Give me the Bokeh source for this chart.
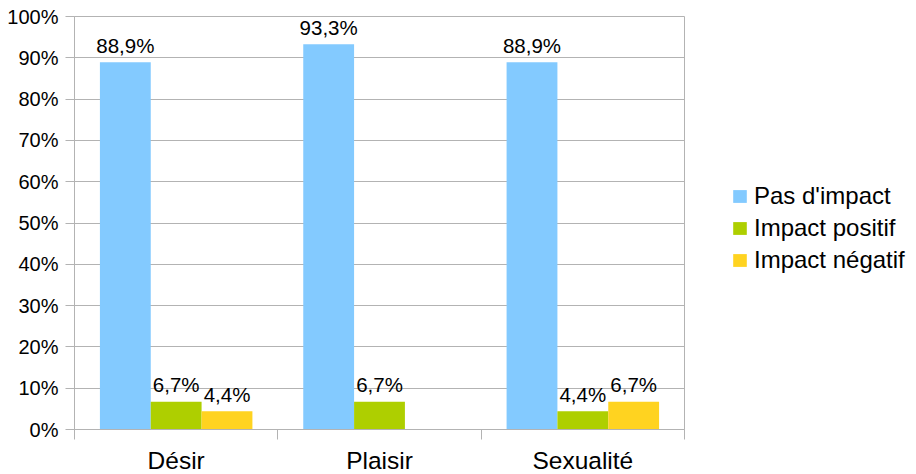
from bokeh.plotting import figure
from bokeh.models import (ColumnDataSource, Range1d, FixedTicker, PrintfTickFormatter,
                          Legend, LegendItem)
from bokeh.core.properties import value
from bokeh.embed import file_html
from bokeh.resources import INLINE

categories = ["Désir", "Plaisir", "Sexualité"]
series_names = ["Pas d'impact", "Impact positif", "Impact négatif"]
pas_impact = [88.9, 93.3, 88.9]
impact_positif = [6.7, 6.7, 4.4]
impact_negatif = [4.4, 0.0, 6.7]
series_values = [pas_impact, impact_positif, impact_negatif]
colors = ["#83CAFF", "#AECF00", "#FFD320"]
y_ticks = [0, 10, 20, 30, 40, 50, 60, 70, 80, 90, 100]

FONT = "Liberation Sans"
GRID = "#b3b3b3"

n = len(categories)
centers = [i + 0.5 for i in range(n)]
bar_w = 0.25
offsets = [-bar_w, 0.0, bar_w]

p = figure(output_backend="svg", toolbar_location=None,
           frame_width=610, frame_height=413,
           min_border_left=74, min_border_top=16, min_border_bottom=44,
           min_border_right=220,
           x_range=Range1d(0, n), y_range=Range1d(0, 100))
p.background_fill_color = "white"
p.border_fill_color = "white"
p.outline_line_color = GRID

# y axis
p.yaxis.ticker = FixedTicker(ticks=y_ticks)
p.yaxis.formatter = PrintfTickFormatter(format="%d%%")
p.yaxis.axis_line_color = GRID
p.yaxis.major_tick_line_color = GRID
p.yaxis.major_tick_out = 9
p.yaxis.major_tick_in = 0
p.yaxis.minor_tick_line_color = None
p.yaxis.major_label_text_font = FONT
p.yaxis.major_label_text_font_size = "20px"
p.yaxis.major_label_text_color = "#000000"
p.yaxis.major_label_standoff = 7

# x axis
p.xaxis.ticker = FixedTicker(ticks=centers, minor_ticks=list(range(n + 1)))
p.xaxis.major_label_overrides = {c: lab for c, lab in zip(centers, categories)}
p.xaxis.axis_line_color = GRID
p.xaxis.major_tick_line_color = None
p.xaxis.major_tick_out = 0
p.xaxis.major_tick_in = 0
p.xaxis.minor_tick_line_color = GRID
p.xaxis.minor_tick_out = 10
p.xaxis.minor_tick_in = 0
p.xaxis.major_label_text_font = FONT
p.xaxis.major_label_text_font_size = "24.5px"
p.xaxis.major_label_text_color = "#000000"
p.xaxis.major_label_standoff = 7

p.xgrid.grid_line_color = None
p.ygrid.ticker = FixedTicker(ticks=y_ticks)
p.ygrid.grid_line_color = GRID

items = []
lx, ly, lt = [], [], []
for name, vals, col, off in zip(series_names, series_values, colors, offsets):
    xs = [c + off for c in centers]
    src = ColumnDataSource(dict(x=xs, top=vals))
    r = p.vbar(x="x", top="top", bottom=0, width=bar_w, source=src,
               fill_color=col, line_color=None)
    items.append(LegendItem(label=name, renderers=[r]))
    for x, v in zip(xs, vals):
        if v > 0:
            lx.append(x)
            ly.append(v)
            lt.append(f"{v:.1f}".replace(".", ",") + "%")

lab_src = ColumnDataSource(dict(x=lx, y=ly, text=lt))
p.text(x="x", y="y", text="text", source=lab_src, text_align="center",
       text_baseline="alphabetic", y_offset=-17,
       text_font=value(FONT), text_font_size="20.5px", text_color="#000000")

legend = Legend(items=items, location=(47, 155))
legend.border_line_color = None
legend.background_fill_alpha = 0
legend.padding = 0
legend.margin = 0
legend.spacing = 4
legend.glyph_width = 17
legend.glyph_height = 16
legend.label_height = 28
legend.label_standoff = 6
legend.label_text_font = FONT
legend.label_text_font_size = "24px"
legend.label_text_color = "#000000"
p.add_layout(legend, "right")

open("out.html", "w").write(file_html(p, INLINE))
